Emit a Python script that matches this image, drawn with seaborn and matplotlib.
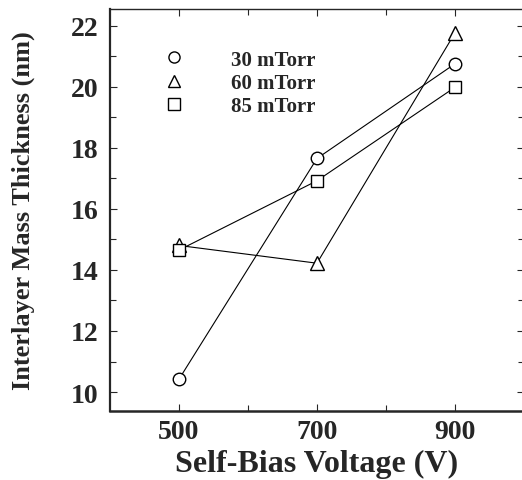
import pandas as pd
import numpy as np
import seaborn as sns
import matplotlib.pyplot as plt
from matplotlib.lines import Line2D
from matplotlib.ticker import MultipleLocator, FixedLocator

# -------------------------------------
# DATA
# -------------------------------------
voltage = [500, 700, 900]
pressures = ["30 mTorr", "60 mTorr", "85 mTorr"]
thick_30 = [10.42, 17.65, 20.75]
thick_60 = [14.80, 14.22, 21.76]
thick_85 = [14.65, 16.92, 19.98]

data = pd.DataFrame({
    "voltage": voltage * 3,
    "pressure": [p for p in pressures for _ in voltage],
    "thickness": thick_30 + thick_60 + thick_85,
})

marker_map = {"30 mTorr": "o", "60 mTorr": "^", "85 mTorr": "s"}
size_map = {"30 mTorr": 9, "60 mTorr": 10, "85 mTorr": 9}

sns.set_style("ticks")
plt.rcParams["font.family"] = ["Liberation Serif", "DejaVu Serif"]
plt.rcParams["font.weight"] = "bold"

fig = plt.figure(figsize=(5.22, 4.81), dpi=100)
ax = fig.add_axes([0.2107, 0.1435, 0.793, 0.836])

for p in pressures:
    sub = data[data["pressure"] == p]
    sns.lineplot(data=sub, x="voltage", y="thickness", ax=ax, color="black",
                 linewidth=0.8, marker=marker_map[p], markersize=size_map[p],
                 markerfacecolor="white", markeredgecolor="black",
                 markeredgewidth=1.0, legend=False)

ax.set_xlim(400, 1000)
ax.set_ylim(9.38, 22.55)
ax.xaxis.set_major_locator(FixedLocator([500, 700, 900]))
ax.xaxis.set_minor_locator(FixedLocator([600, 800]))
ax.yaxis.set_major_locator(MultipleLocator(2))
ax.yaxis.set_minor_locator(MultipleLocator(1))
ax.tick_params(which="both", direction="in", top=True, right=True,
               labelsize=20, width=0.8)
ax.tick_params(which="major", length=5)
ax.tick_params(which="minor", length=4)
ax.tick_params(axis="y", pad=8)
ax.tick_params(axis="x", pad=6)
for lab in ax.get_xticklabels() + ax.get_yticklabels():
    lab.set_fontweight("bold")
ax.spines["left"].set_linewidth(1.6)
ax.spines["bottom"].set_linewidth(1.8)
ax.spines["top"].set_linewidth(1.0)
ax.spines["right"].set_visible(False)

ax.set_xlabel("Self-Bias Voltage (V)", fontsize=23, fontweight="bold", labelpad=3)
ax.set_ylabel("Interlayer Mass Thickness (nm)", fontsize=19, fontweight="bold", labelpad=26)

handles = [Line2D([], [], linestyle="none", marker=marker_map[p], markersize=size_map[p] - 1,
                  markerfacecolor="white", markeredgecolor="black", markeredgewidth=1.0)
           for p in pressures]
leg = ax.legend(handles, pressures, loc="upper left", bbox_to_anchor=(0.085, 0.945),
                frameon=False, handlelength=1.0, handletextpad=2.24, labelspacing=0.15,
                prop={"size": 15, "weight": "bold"})

fig.savefig("out.png", dpi=100)
